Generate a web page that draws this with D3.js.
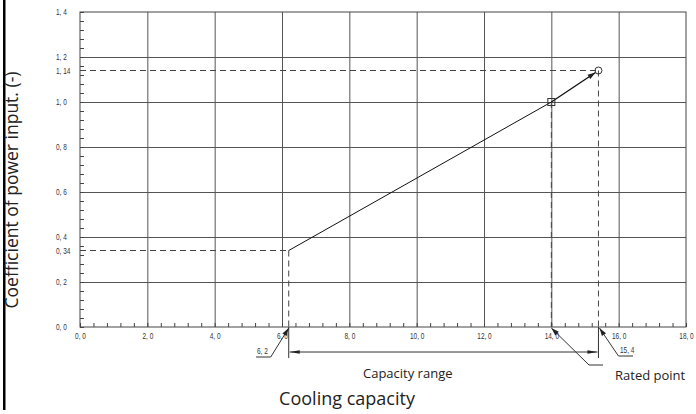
<!DOCTYPE html>
<html>
<head>
<meta charset="utf-8">
<script src="https://cdn.jsdelivr.net/npm/d3@7/dist/d3.min.js"></script>
<style>
  body { margin: 0; background: #fff; }
  svg { display: block; }
  .tl { font-family: "Liberation Sans", Arial, sans-serif; font-size: 9px; fill: #333; }
  .ttl { font-family: "Open Sans", sans-serif; fill: #222; }
</style>
</head>
<body>
<div id="chart"></div>
<script>
// axis ticks
var xTicks = [0, 2, 4, 6, 8, 10, 12, 14, 16, 18];
var xTickLabels = ["0, 0", "2, 0", "4, 0", "6, 0", "8, 0", "10, 0", "12, 0", "14, 0", "16, 0", "18, 0"];
var yTicks = [0, 0.2, 0.34, 0.4, 0.6, 0.8, 1.0, 1.14, 1.2, 1.4];
var yTickLabels = ["0, 0", "0, 2", "0, 34", "0, 4", "0, 6", "0, 8", "1, 0", "1, 14", "1, 2", "1, 4"];
var yGrid = [0.2, 0.4, 0.6, 0.8, 1.0, 1.2];
var xGrid = [2, 4, 6, 8, 10, 12, 14, 16];

// curve: capacity -> coefficient
var capacity = [6.2, 14.0, 15.4];
var coefficient = [0.34, 1.0, 1.14];

var W = 696, H = 414;
var svg = d3.select('#chart').append('svg')
    .attr('width', W)
    .attr('height', H);

var x = d3.scaleLinear().domain([0, 18]).range([80, 686]);
var y = d3.scaleLinear().domain([0, 1.4]).range([327, 12]);

var defs = svg.append('defs');
function arrow(id, len, half) {
    defs.append('marker')
        .attr('id', id)
        .attr('markerUnits', 'userSpaceOnUse')
        .attr('viewBox', (-len - 1) + ' ' + (-half - 1) + ' ' + (len + 2) + ' ' + (2 * half + 2))
        .attr('refX', 0).attr('refY', 0)
        .attr('markerWidth', len + 2).attr('markerHeight', 2 * half + 2)
        .attr('orient', 'auto')
        .append('path')
        .attr('d', 'M0,0 L' + (-len) + ',' + (-half) + ' L' + (-len) + ',' + half + ' Z')
        .attr('fill', '#222');
}
arrow('tip', 8, 2.5);
arrow('dim', 10, 1.8);

// left black edge
svg.append('rect').attr('x', 3).attr('y', 0).attr('width', 2.5).attr('height', 410).attr('fill', '#000');

// grid
svg.append('g')
    .attr('transform', 'translate(0,327)')
    .call(d3.axisBottom(x).tickValues(xGrid).tickSize(-(327 - 12)).tickFormat(''))
    .call(function(g){ g.select('.domain').remove(); })
    .selectAll('line').attr('stroke', '#555');
svg.append('g')
    .attr('transform', 'translate(80,0)')
    .call(d3.axisLeft(y).tickValues(yGrid).tickSize(-(686 - 80)).tickFormat(''))
    .call(function(g){ g.select('.domain').remove(); })
    .selectAll('line').attr('stroke', '#555');

// minor ticks
svg.append('g')
    .attr('transform', 'translate(0,327)')
    .call(d3.axisBottom(x).tickValues(d3.range(0, 18.01, 0.4)).tickSize(-4).tickFormat(''))
    .call(function(g){ g.select('.domain').remove(); })
    .selectAll('line').attr('stroke', '#444');
svg.append('g')
    .attr('transform', 'translate(80,0)')
    .call(d3.axisLeft(y).tickValues(d3.range(0, 1.401, 0.04)).tickSize(-4).tickFormat(''))
    .call(function(g){ g.select('.domain').remove(); })
    .selectAll('line').attr('stroke', '#444');

// frame
svg.append('rect')
    .attr('x', x(0)).attr('y', y(1.4))
    .attr('width', x(18) - x(0)).attr('height', y(0) - y(1.4))
    .attr('fill', 'none').attr('stroke', '#444');

// tick labels
var xl = svg.append('g')
    .attr('transform', 'translate(0,327)')
    .call(d3.axisBottom(x).tickValues(xTicks).tickSize(0).tickPadding(6)
        .tickFormat(function(d, i){ return xTickLabels[i]; }));
xl.select('.domain').remove();
xl.selectAll('text').attr('class', 'tl')
    .attr('transform', 'scale(0.72,1)');

var yl = svg.append('g')
    .attr('transform', 'translate(80,0)')
    .call(d3.axisLeft(y).tickValues(yTicks).tickSize(0)
        .tickFormat(function(d, i){ return yTickLabels[i]; }));
yl.select('.domain').remove();
yl.selectAll('text').attr('class', 'tl')
    .attr('text-anchor', 'start')
    .attr('x', -24 / 0.72)
    .attr('transform', 'scale(0.72,1)');
yl.attr('font-family', null).attr('font-size', null);
xl.attr('font-family', null).attr('font-size', null);

// dashed guides
var dash = svg.append('g').attr('stroke', '#444').attr('stroke-dasharray', '6,4').attr('fill', 'none');
capacity.forEach(function(c, i) {
    if (i !== 1) {
        dash.append('line').attr('x1', x(0)).attr('x2', x(c))
            .attr('y1', y(coefficient[i])).attr('y2', y(coefficient[i]));
    }
    dash.append('line').attr('x1', x(c)).attr('x2', x(c))
        .attr('y1', y(coefficient[i])).attr('y2', y(0));
});

// curve
var pts = capacity.map(function(c, i){ return [x(c), y(coefficient[i])]; });
svg.append('path')
    .attr('d', d3.line()(pts.slice(0, 2)))
    .attr('fill', 'none').attr('stroke', '#111').attr('stroke-width', 1);
var a = pts[1], b = pts[2];
var len = Math.hypot(b[0] - a[0], b[1] - a[1]);
var r = 3.5;
svg.append('line')
    .attr('x1', a[0]).attr('y1', a[1])
    .attr('x2', b[0] - (b[0] - a[0]) / len * r).attr('y2', b[1] - (b[1] - a[1]) / len * r)
    .attr('stroke', '#111').attr('stroke-width', 1.3)
    .attr('marker-end', 'url(#tip)');
svg.append('rect')
    .attr('x', a[0] - 3.5).attr('y', a[1] - 3.5).attr('width', 7).attr('height', 7)
    .attr('fill', 'none').attr('stroke', '#333');
svg.append('circle')
    .attr('cx', b[0]).attr('cy', b[1]).attr('r', r)
    .attr('fill', 'none').attr('stroke', '#333');

// dimension: capacity range
var lo = capacity[0], hi = capacity[2], dimY = 352;
var dim = svg.append('g').attr('stroke', '#333').attr('fill', 'none');
dim.append('line').attr('x1', x(lo)).attr('x2', x(lo)).attr('y1', y(0)).attr('y2', 358);
dim.append('line').attr('x1', x(hi)).attr('x2', x(hi)).attr('y1', y(0)).attr('y2', 358);
dim.append('line')
    .attr('x1', x(lo) + 1).attr('x2', x(hi) - 1).attr('y1', dimY).attr('y2', dimY)
    .attr('marker-start', 'url(#dim)').attr('marker-end', 'url(#dim)');
defs.select('#dim').attr('orient', 'auto-start-reverse');

// leaders
var lead = svg.append('g').attr('stroke', '#333').attr('fill', 'none');
lead.append('path').attr('d', 'M256,357 H' + (x(lo) - 18) + ' L' + x(lo) + ',' + (y(0) + 1))
    .attr('marker-end', 'url(#tip)');
lead.append('path').attr('d', 'M633,356 H' + (x(hi) + 20) + ' L' + (x(hi) + 1) + ',' + (y(0) + 1))
    .attr('marker-end', 'url(#tip)');
lead.append('path').attr('d', 'M603,365 H589 L' + x(capacity[1]) + ',' + (y(0) + 1))
    .attr('marker-end', 'url(#tip)');

svg.append('text').attr('class', 'tl').attr('transform', 'translate(257,354) scale(0.72,1)').text('6, 2');
svg.append('text').attr('class', 'tl').attr('transform', 'translate(620,353) scale(0.72,1)').text('15, 4');

// titles
svg.append('text').attr('class', 'ttl')
    .attr('transform', 'translate(18,190) rotate(-90)')
    .attr('text-anchor', 'middle').attr('font-size', 17.5)
    .text('Coefficient of power input. (-)');
svg.append('text').attr('class', 'ttl')
    .attr('x', 347).attr('y', 405)
    .attr('text-anchor', 'middle').attr('font-size', 18)
    .text('Cooling capacity');
svg.append('text').attr('class', 'ttl')
    .attr('x', 363).attr('y', 378).attr('font-size', 13)
    .text('Capacity range');
svg.append('text').attr('class', 'ttl')
    .attr('x', 615).attr('y', 380).attr('font-size', 13)
    .text('Rated point');
</script>
</body>
</html>
